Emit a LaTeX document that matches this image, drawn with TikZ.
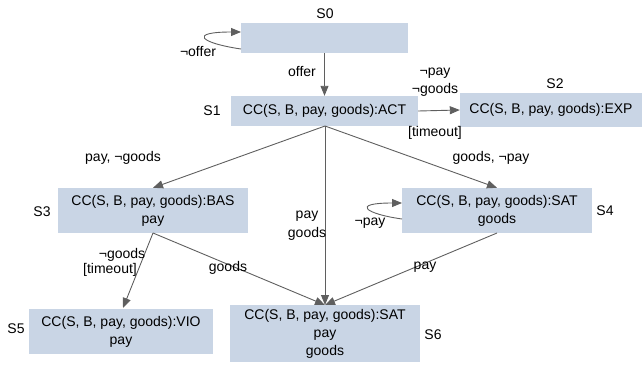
\documentclass[tikz,border=0pt]{standalone}
\usepackage{fontspec}
\setmainfont{Liberation Sans}
\usetikzlibrary{arrows.meta}
\begin{document}
\begin{tikzpicture}[x=1pt,y=-1pt,
  box/.style={fill=boxfill,draw=none,inner sep=0pt,align=center,font=\fontsize{14}{18}\selectfont},
  lbl/.style={inner sep=0pt,font=\fontsize{14}{17}\selectfont,align=center},
  arr/.style={draw=linegray,line width=0.9pt,-{Triangle[length=10pt,width=8pt]}}]
\definecolor{boxfill}{HTML}{C9D5E5}
\definecolor{linegray}{HTML}{5F5F5F}
\useasboundingbox (0,0) rectangle (642,364);
% boxes
\path[fill=boxfill] (241,23) rectangle (408,53);
\node[box,minimum width=167pt,minimum height=30pt] (s0) at (324.5,38) {};
\node[box,minimum width=187pt,minimum height=30pt] (s1) at (324.5,111) {CC(S, B, pay, goods):ACT};
\node[box,minimum width=182pt,minimum height=34pt] (s2) at (551,110) {CC(S, B, pay, goods):EXP};
\node[box,minimum width=190pt,minimum height=45pt] (s3) at (153,210.5) {CC(S, B, pay, goods):BAS\\pay};
\node[box,minimum width=190pt,minimum height=45pt] (s4) at (497,210.5) {CC(S, B, pay, goods):SAT\\goods};
\node[box,minimum width=184pt,minimum height=45pt] (s5) at (121,331.5) {CC(S, B, pay, goods):VIO\\pay};
\node[box,minimum width=190pt,minimum height=57pt] (s6) at (325,333.5) {CC(S, B, pay, goods):SAT\\pay\\goods};
% state labels
\node[lbl] (l0) at (325,14) {S0};
\node[lbl] (l1) at (212,111) {S1};
\node[lbl] (l2) at (555,84) {S2};
\node[lbl] (l3) at (42,212) {S3};
\node[lbl] (l4) at (605,211) {S4};
\node[lbl] (l5) at (16,329) {S5};
\node[lbl] (l6) at (433,335) {S6};
% coordinates
\coordinate (s1b) at (325,126);
\coordinate (s3b) at (153,233);
\coordinate (s4b) at (497,233);
\coordinate (s6t) at (325,305);
% edges
\draw[arr] (s0.south) -- (s1.north);
\draw[arr] (s1.east) -- (s2.west);
\draw[arr] (s1b) -- (s3.north);
\draw[arr] (s1b) -- (s4.north);
\draw[arr] (s1b) -- (s6t);
\draw[arr] (s3b) -- (123,308);
\draw[arr] (s3b) -- (s6t);
\draw[arr] (s4b) -- (s6t);
\draw[arr] (241,49) .. controls (200,43) and (188,32) .. (241,32);
\draw[arr] (402,219) .. controls (366,214) and (350,203) .. (402,203);
% edge labels
\node[lbl] (e1) at (302,72) {offer};
\node[lbl] (e2) at (198,52) {¬offer};
\node[lbl] (e3) at (435,73) {¬pay};
\node[lbl] (e4) at (435,90) {¬goods};
\node[lbl] (e5) at (435,133) {[timeout]};
\node[lbl] (e6) at (123,158) {pay, ¬goods};
\node[lbl] (e7) at (491,158) {goods, ¬pay};
\node[lbl] (e8) at (307,216) {pay};
\node[lbl] (e9) at (307,234) {goods};
\node[lbl] (e10) at (370,223) {¬pay};
\node[lbl] (e11) at (122,255) {¬goods};
\node[lbl] (e12) at (110,270) {[timeout]};
\node[lbl] (e13) at (228,268) {goods};
\node[lbl] (e14) at (425,267) {pay};
\end{tikzpicture}
\end{document}
